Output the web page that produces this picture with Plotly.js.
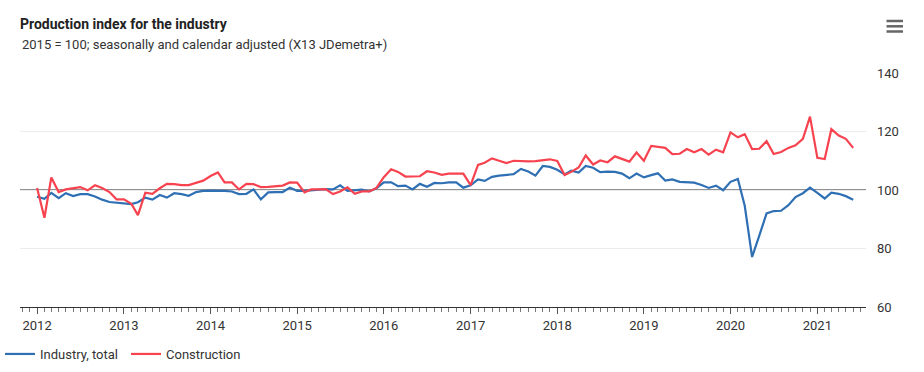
<!DOCTYPE html>
<html>
<head>
<meta charset="utf-8">
<script src="https://cdn.plot.ly/plotly-3.0.1.min.js"></script>
<style>
  html, body { margin: 0; padding: 0; background: #fff; }
  #chart { width: 924px; height: 372px; }
</style>
</head>
<body>
<div id="chart"></div>
<script>
// Monthly series, January 2012 – June 2021 (2015 = 100)
const startYear = 2012;
const startMonth = 1;

const industryTotal = [
  97.7, 97.0, 99.0, 97.2, 98.9, 97.9, 98.6, 98.6, 97.8, 96.7, 95.9, 95.7,
  95.4, 95.2, 95.8, 97.4, 96.7, 98.3, 97.4, 98.9, 98.6, 98.0, 99.3, 99.7,
  99.8, 99.8, 99.7, 99.5, 98.6, 98.7, 100.2, 96.8, 99.2, 99.3, 99.3, 100.8,
  99.7, 99.7, 99.9, 100.3, 100.3, 100.2, 101.6, 99.7, 99.9, 100.1, 99.5, 100.6,
  102.6, 102.6, 101.3, 101.5, 100.2, 102.1, 101.1, 102.4, 102.3, 102.6, 102.6, 100.8,
  101.6, 103.6, 103.1, 104.5, 104.9, 105.1, 105.4, 107.2, 106.3, 104.9, 108.2, 107.9,
  106.9, 105.3, 106.6, 106.0, 108.2, 107.6, 106.1, 106.3, 106.2, 105.6, 104.0, 105.6,
  104.3, 105.1, 105.7, 103.2, 103.6, 102.8, 102.6, 102.5, 101.7, 100.7, 101.5, 99.9,
  102.8, 103.8, 94.6, 77.1, 84.3, 92.0, 92.8, 92.9, 94.8, 97.6, 98.9, 100.8,
  99.0, 97.1, 99.1, 98.7, 97.9, 96.7
];

const construction = [
  100.7, 90.5, 104.3, 99.3, 100.2, 100.6, 101.0, 99.9, 101.6, 100.7, 99.3, 96.8,
  96.8, 95.3, 91.4, 99.1, 98.7, 100.6, 102.1, 102.0, 101.7, 101.7, 102.4, 103.2,
  104.8, 106.0, 102.6, 102.6, 100.2, 102.1, 102.0, 101.0, 101.1, 101.3, 101.5, 102.6,
  102.5, 99.2, 100.2, 100.2, 100.3, 98.6, 99.5, 100.9, 98.7, 99.5, 99.5, 100.7,
  104.4, 107.1, 106.2, 104.6, 104.6, 104.7, 106.4, 106.0, 105.2, 105.6, 105.6, 105.6,
  101.7, 108.6, 109.3, 110.8, 110.0, 109.2, 110.0, 109.8, 109.8, 109.9, 110.1, 110.5,
  109.9, 105.1, 106.2, 107.7, 111.8, 108.7, 110.1, 109.5, 111.5, 110.5, 109.7, 112.8,
  110.0, 115.1, 114.8, 114.4, 112.3, 112.4, 114.0, 112.9, 114.0, 112.1, 113.8, 112.9,
  119.7, 118.0, 119.1, 114.0, 114.1, 116.7, 112.3, 113.0, 114.4, 115.3, 117.5, 125.1,
  111.0, 110.6, 120.8, 118.6, 117.5, 114.4
];

const seriesNames = ["Industry, total", "Construction"];
const yTicks = [60, 80, 100, 120, 140];
const referenceLevel = 100;

const titleText = "Production index for the industry";
const subtitleText = "2015 = 100; seasonally and calendar adjusted (X13 JDemetra+)";

function monthDates(n) {
  const out = [];
  for (let i = 0; i < n; i++) {
    const m = startMonth - 1 + i;
    const y = startYear + Math.floor(m / 12);
    const mm = (m % 12) + 1;
    out.push(y + "-" + String(mm).padStart(2, "0") + "-01");
  }
  return out;
}
const dates = monthDates(industryTotal.length);

const FONT = "Roboto, 'Noto Sans', Arial, sans-serif";
const BLUE = "#2f6fb3";
const RED = "#f7434f";

const traces = [
  {
    x: dates, y: industryTotal, name: seriesNames[0], type: "scatter", mode: "lines",
    line: { color: BLUE, width: 2.2 }, hoverinfo: "x+y+name"
  },
  {
    x: dates, y: construction, name: seriesNames[1], type: "scatter", mode: "lines",
    line: { color: RED, width: 2.2 }, hoverinfo: "x+y+name"
  }
];

const W = 924, H = 372, L = 20, R = 58, T = 73, B = 65;
const pw = W - L - R, ph = H - T - B;
const px = v => (v - L) / pw;
const py = v => (H - B - v) / ph;

const layout = {
  width: W, height: H,
  margin: { l: L, r: R, t: T, b: B, autoexpand: false },
  paper_bgcolor: "#fff", plot_bgcolor: "#fff",
  font: { family: FONT, size: 13, color: "#333" },
  title: {
    text: titleText,
    font: { family: FONT, size: 14, color: "#222", weight: "bold" },
    x: L / W, xanchor: "left", xref: "container",
    y: 1 - 24 / H, yanchor: "middle", yref: "container"
  },
  xaxis: {
    type: "date",
    range: ["2011-10-21", "2021-07-25"],
    tick0: "2012-01-01", dtick: "M12", tickformat: "%Y",
    ticks: "outside", ticklen: 6, tickcolor: "#555", tickwidth: 1,
    minor: { dtick: "M1", ticks: "outside", ticklen: 4, tickcolor: "#777", tickwidth: 1, showgrid: false },
    showline: true, linecolor: "#333", linewidth: 1,
    showgrid: false, zeroline: false,
    tickfont: { family: FONT, size: 13, color: "#333" },
    fixedrange: true
  },
  yaxis: {
    side: "right",
    range: [60, 140],
    tickvals: yTicks,
    showgrid: true, gridcolor: "#ececec", gridwidth: 1,
    zeroline: false, showline: false, ticks: "",
    ticklabelstandoff: 10,
    tickfont: { family: FONT, size: 13, color: "#333" },
    fixedrange: true
  },
  showlegend: true,
  legend: {
    orientation: "h",
    xref: "container", yref: "container",
    x: 0, xanchor: "left",
    y: 1 - 354 / H, yanchor: "middle",
    font: { family: FONT, size: 13, color: "#333" },
    entrywidth: 81,
    bgcolor: "rgba(0,0,0,0)"
  },
  shapes: [
    { type: "line", xref: "paper", yref: "y", x0: 0, x1: 1, y0: referenceLevel, y1: referenceLevel,
      line: { color: "#222", width: 1.2 }, layer: "below" },
    { type: "line", xref: "paper", yref: "paper", x0: px(886.5), x1: px(903), y0: py(21), y1: py(21), line: { color: "#666", width: 2.5 } },
    { type: "line", xref: "paper", yref: "paper", x0: px(886.5), x1: px(903), y0: py(26.3), y1: py(26.3), line: { color: "#666", width: 2.5 } },
    { type: "line", xref: "paper", yref: "paper", x0: px(886.5), x1: px(903), y0: py(31.5), y1: py(31.5), line: { color: "#666", width: 2.5 } }
  ],
  annotations: [
    { text: subtitleText, xref: "paper", yref: "paper", x: 0, y: py(44), xanchor: "left", yanchor: "middle",
      showarrow: false, font: { family: FONT, size: 13, color: "#333" } }
  ]
};

Plotly.newPlot("chart", traces, layout, { displayModeBar: false, responsive: false });
</script>
</body>
</html>
